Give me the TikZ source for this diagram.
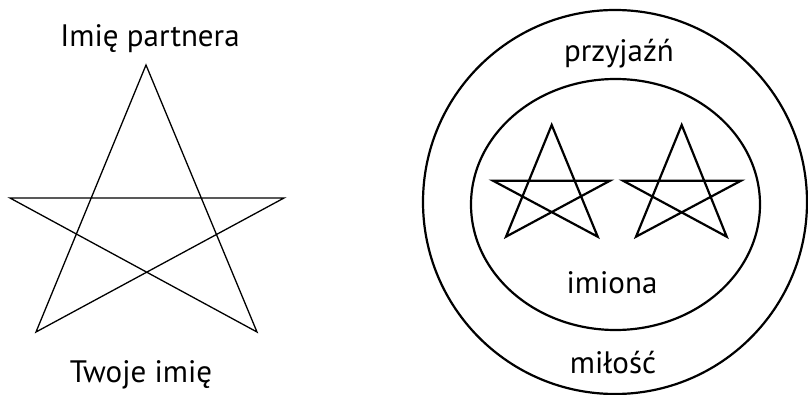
\documentclass[tikz,border=0pt]{standalone}
\usepackage{fontspec}
\setmainfont{PT Sans}
\begin{document}
\begin{tikzpicture}[x=1pt,y=-1pt,
  thinstar/.style={line width=1.3pt,line join=miter},
  thickline/.style={line width=2.2pt,line join=miter},
  lbl/.style={anchor=base,inner sep=0pt,font=\fontsize{31}{34}\selectfont}]
\useasboundingbox (0,0) rectangle (808,395);
% left star
\coordinate (lt) at (146,65);
\coordinate (ll) at (10,198);
\coordinate (lr) at (284,198);
\coordinate (lbl) at (36,332);
\coordinate (lbr) at (257,332);
\draw[thinstar] (lt) -- (lbl) -- (lr) -- (ll) -- (lbr) -- cycle;
\node[lbl] (partner) at (150,47) {Imię partnera};
\node[lbl] (you) at (141,382) {Twoje imię};
% circles
\draw[thickline] (615,202) circle [radius=192];
\draw[thickline] (615.5,204.5) ellipse [x radius=144.5, y radius=125.5];
% small star 1
\coordinate (at) at (551.7,125);
\coordinate (al) at (493,180.7);
\coordinate (ar) at (610,180.7);
\coordinate (abl) at (506,236.7);
\coordinate (abr) at (597.7,236.7);
\draw[thickline] (at) -- (abl) -- (ar) -- (al) -- (abr) -- cycle;
% small star 2
\coordinate (bt) at (681.7,125);
\coordinate (bl) at (623,180.7);
\coordinate (br) at (741,180.7);
\coordinate (bbl) at (636,236.7);
\coordinate (bbr) at (726.7,236.7);
\draw[thickline] (bt) -- (bbl) -- (br) -- (bl) -- (bbr) -- cycle;
\node[lbl] (friend) at (619,62) {przyjaźń};
\node[lbl] (names) at (612,293) {imiona};
\node[lbl] (love) at (613,373) {miłość};
\end{tikzpicture}
\end{document}
